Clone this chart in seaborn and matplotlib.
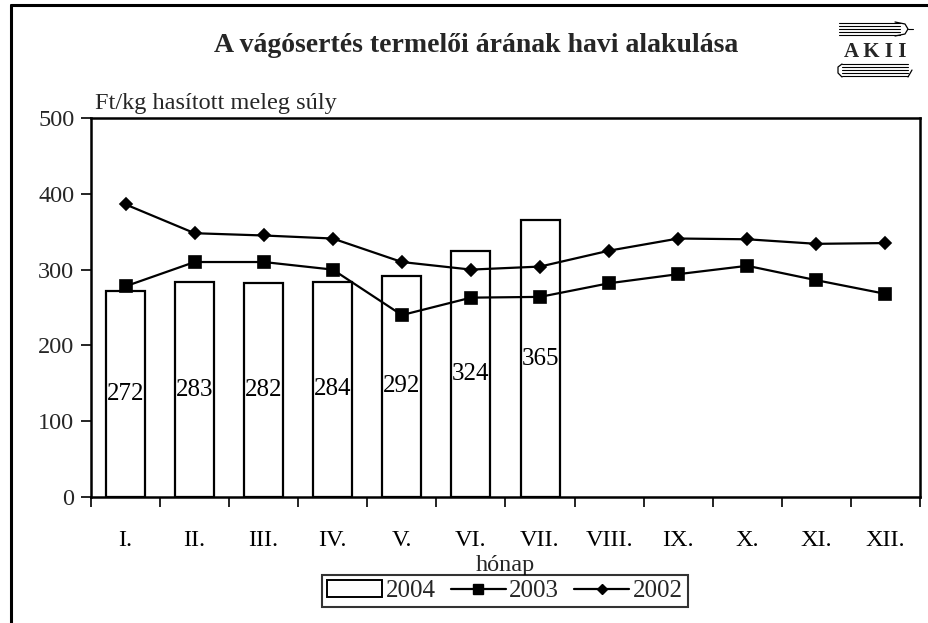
import numpy as np
import pandas as pd
import matplotlib
matplotlib.use("Agg")
import matplotlib.pyplot as plt
from matplotlib.lines import Line2D
from matplotlib.patches import Patch
import seaborn as sns

months = ["I.", "II.", "III.", "IV.", "V.", "VI.", "VII.", "VIII.", "IX.", "X.", "XI.", "XII."]
v2004 = [272, 283, 282, 284, 292, 324, 365]
v2003 = [278, 310, 310, 300, 240, 263, 264, 282, 294, 305, 286, 268]
v2002 = [386, 348, 345, 341, 310, 300, 304, 325, 341, 340, 334, 335]
yticks = [0, 100, 200, 300, 400, 500]

title = "A vágósertés termelői árának havi alakulása"
ylabel = "Ft/kg hasított meleg súly"
xlabel = "hónap"

sns.set_theme(style="white")
plt.rcParams["font.family"] = ["Liberation Serif", "DejaVu Serif"]

fig = plt.figure(figsize=(9.29, 6.23), dpi=100)
ax = fig.add_axes([91/929, 1-497/623, 829/929, (497-118)/623])

df04 = pd.DataFrame({"month": months[:len(v2004)], "v": v2004})
df03 = pd.DataFrame({"month": months, "v": v2003})
df02 = pd.DataFrame({"month": months, "v": v2002})

sns.barplot(data=df04, x="month", y="v", order=months, color="white",
            edgecolor="black", linewidth=1.6, width=0.565, ax=ax, saturation=1)
bars = ax.containers[0]
ax.bar_label(bars, labels=[str(v) for v in v2004], label_type="center",
             fontsize=18, color="black")

sns.pointplot(data=df03, x="month", y="v", order=months, color="black",
              marker="s", markersize=8, linewidth=1.6, ax=ax, errorbar=None)
sns.pointplot(data=df02, x="month", y="v", order=months, color="black",
              marker="D", markersize=6.5, linewidth=1.6, ax=ax, errorbar=None)

ax.set_xlim(-0.5, 11.5)
ax.set_ylim(0, 500)
ax.set_yticks(yticks)
ax.set_yticklabels([str(t) for t in yticks], fontsize=17.5)
ax.set_xticks(range(len(months)))
ax.set_xticklabels(months, fontsize=17.5)
ax.set_xticks(np.arange(-0.5, 12, 1), minor=True)
ax.tick_params(axis="x", which="major", length=0, pad=24, colors="black")
ax.tick_params(axis="x", which="minor", length=7, width=1.2, color="black", direction="out", bottom=True)
ax.tick_params(axis="y", which="major", length=7, width=1.2, color="black", direction="out", left=True, pad=5)
for s in ax.spines.values():
    s.set_color("black")
    s.set_linewidth(1.8)
ax.set_xlabel("")
ax.set_ylabel("")

fig.text(95/929, 1-104/623, ylabel, fontsize=17.5, ha="left", va="center")
fig.text(505/929, 1-565/623, xlabel, fontsize=17.5, ha="center", va="center")
fig.text(476/929, 1-45/623, title, fontsize=20, fontweight="bold", ha="center", va="center")

handles = [Patch(facecolor="white", edgecolor="black", linewidth=1.4, label="2004"),
           Line2D([], [], color="black", marker="s", markersize=7, linewidth=1.6, label="2003"),
           Line2D([], [], color="black", marker="D", markersize=5.5, linewidth=1.6, label="2002")]
leg = fig.legend(handles=handles, loc="center", bbox_to_anchor=(505/929, 1-591/623), ncol=3,
                 fontsize=18, frameon=True, fancybox=False, edgecolor="black",
                 handlelength=2.2, handletextpad=0.15, columnspacing=0.6, borderpad=0.2)
leg.get_frame().set_linewidth(1.5)

# figure border (left and top)
fig.add_artist(Line2D([11/929, 11/929], [0, 1-5/623], color="black", linewidth=2.2, transform=fig.transFigure))
fig.add_artist(Line2D([11/929, 1], [1-5/623, 1-5/623], color="black", linewidth=2.2, transform=fig.transFigure))

# logo
fig.text(875/929, 1-52/623, "A K I I", fontsize=15, fontweight="bold", ha="center", va="center")
for yy in [23, 26, 29, 32, 35]:
    fig.add_artist(Line2D([839/929, 900/929], [1-yy/623]*2, color="black", linewidth=0.8, transform=fig.transFigure))
fig.add_artist(Line2D([895/929, 905/929, 908/929, 905/929, 895/929],
                      [1-22/623, 1-24/623, 1-29/623, 1-34/623, 1-36/623],
                      color="black", linewidth=0.9, transform=fig.transFigure))
fig.add_artist(Line2D([908/929, 913/929], [1-29/623]*2, color="black", linewidth=0.8, transform=fig.transFigure))
for yy in [64, 67, 70, 73, 76]:
    fig.add_artist(Line2D([842/929, 908/929], [1-yy/623]*2, color="black", linewidth=0.8, transform=fig.transFigure))
fig.add_artist(Line2D([842/929, 838/929, 838/929, 842/929], [1-64/623, 1-67/623, 1-73/623, 1-77/623],
                      color="black", linewidth=0.9, transform=fig.transFigure))
fig.add_artist(Line2D([908/929, 912/929], [1-77/623, 1-70/623], color="black", linewidth=0.9, transform=fig.transFigure))

fig.savefig("out.png", dpi=100)
